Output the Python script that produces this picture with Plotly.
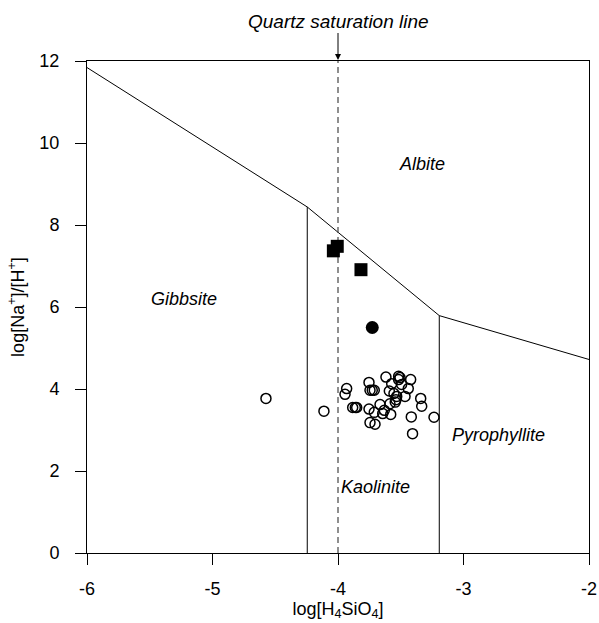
import plotly.graph_objects as go

# Boundary lines (log[H4SiO4], log[Na+]/[H+])
gib_alb_x = [-6.0, -4.245]
gib_alb_y = [11.84, 8.44]
kao_alb_x = [-4.245, -3.193]
kao_alb_y = [8.44, 5.79]
pyr_alb_x = [-3.193, -2.0]
pyr_alb_y = [5.79, 4.72]
gib_kao_x = [-4.245, -4.245]
gib_kao_y = [0.0, 8.44]
kao_pyr_x = [-3.193, -3.193]
kao_pyr_y = [0.0, 5.79]
quartz_x = [-4.0, -4.0]
quartz_y = [0.0, 12.0]

# Data
sq_x = [-4.037, -4.006, -3.817]
sq_y = [7.37, 7.48, 6.91]
fc_x = [-3.727]
fc_y = [5.50]
oc_x = [-4.574, -4.112, -3.931, -3.944, -3.883, -3.862, -3.851, -3.753, -3.745, -3.727,
        -3.711, -3.753, -3.745, -3.705, -3.665, -3.711, -3.644, -3.631, -3.618, -3.580,
        -3.591, -3.572, -3.554, -3.517, -3.506, -3.517, -3.493, -3.421, -3.440, -3.466,
        -3.532, -3.538, -3.544, -3.586, -3.341, -3.333, -3.416, -3.235, -3.406]
oc_y = [3.77, 3.46, 4.01, 3.87, 3.55, 3.55, 3.55, 4.16, 3.97, 3.97,
        3.97, 3.51, 3.18, 3.14, 3.62, 3.43, 3.40, 3.48, 4.29, 3.38,
        3.95, 4.13, 3.89, 4.31, 4.28, 4.23, 4.11, 4.23, 4.01, 3.82,
        3.82, 3.74, 3.68, 3.64, 3.77, 3.58, 3.32, 3.31, 2.91]

field_labels = ["Albite", "Gibbsite", "Kaolinite", "Pyrophyllite"]
field_x = [-3.33, -5.23, -3.70, -2.72]
field_y = [9.5, 6.2, 1.6, 2.88]

x_ticks = [-6, -5, -4, -3, -2]
y_ticks = [0, 2, 4, 6, 8, 10, 12]

FONT = "Liberation Sans, Arial, sans-serif"

fig = go.Figure()
line_style = dict(color="black", width=1)
for xs, ys in [(gib_alb_x, gib_alb_y), (kao_alb_x, kao_alb_y), (pyr_alb_x, pyr_alb_y),
               (gib_kao_x, gib_kao_y), (kao_pyr_x, kao_pyr_y)]:
    fig.add_trace(go.Scatter(x=xs, y=ys, mode="lines", line=line_style,
                             showlegend=False, hoverinfo="skip", cliponaxis=False))
fig.add_trace(go.Scatter(x=quartz_x, y=quartz_y, mode="lines",
                         line=dict(color="#444444", width=1.2, dash="6px,4px"),
                         showlegend=False, hoverinfo="skip"))

fig.add_trace(go.Scatter(x=oc_x, y=oc_y, mode="markers",
                         marker=dict(symbol="circle-open", size=10, color="black",
                                     line=dict(width=1.5, color="black")),
                         showlegend=False))
fig.add_trace(go.Scatter(x=sq_x, y=sq_y, mode="markers",
                         marker=dict(symbol="square", size=13, color="black"),
                         showlegend=False))
fig.add_trace(go.Scatter(x=fc_x, y=fc_y, mode="markers",
                         marker=dict(symbol="circle", size=13, color="black"),
                         showlegend=False))

for t, x, y in zip(field_labels, field_x, field_y):
    fig.add_annotation(x=x, y=y, text="<i>%s</i>" % t, showarrow=False,
                       font=dict(family=FONT, size=18, color="black"))

fig.add_annotation(x=-4, y=12, text="<i>Quartz saturation line</i>", showarrow=True,
                   ax=0, ay=-40, arrowhead=2, arrowsize=1.2, arrowwidth=1,
                   arrowcolor="black", standoff=1,
                   font=dict(family=FONT, size=19, color="black"))

axis_common = dict(showgrid=False, zeroline=False, showline=True, linecolor="black",
                   linewidth=1, mirror=True, ticks="outside", ticklen=11, tickwidth=1,
                   tickcolor="black", automargin=False,
                   tickfont=dict(family=FONT, size=18, color="black"))

fig.update_xaxes(range=[-6, -2], tickvals=x_ticks, ticktext=[str(v) for v in x_ticks],
                 ticklabelstandoff=8,
                 title=dict(text="log[H<sub>4</sub>SiO<sub>4</sub>]",
                            font=dict(family=FONT, size=18, color="black"), standoff=4),
                 **axis_common)
fig.update_yaxes(range=[0, 12], tickvals=y_ticks, ticktext=[str(v) for v in y_ticks],
                 ticklabelstandoff=12,
                 title=dict(text="log[Na<sup>+</sup>]/[H<sup>+</sup>]",
                            font=dict(family=FONT, size=18, color="black"), standoff=10),
                 **axis_common)

fig.update_layout(width=599, height=623, margin=dict(l=87, r=10, t=61, b=70),
                  plot_bgcolor="white", paper_bgcolor="white",
                  font=dict(family=FONT, color="black"))

fig.write_html("out.html")
